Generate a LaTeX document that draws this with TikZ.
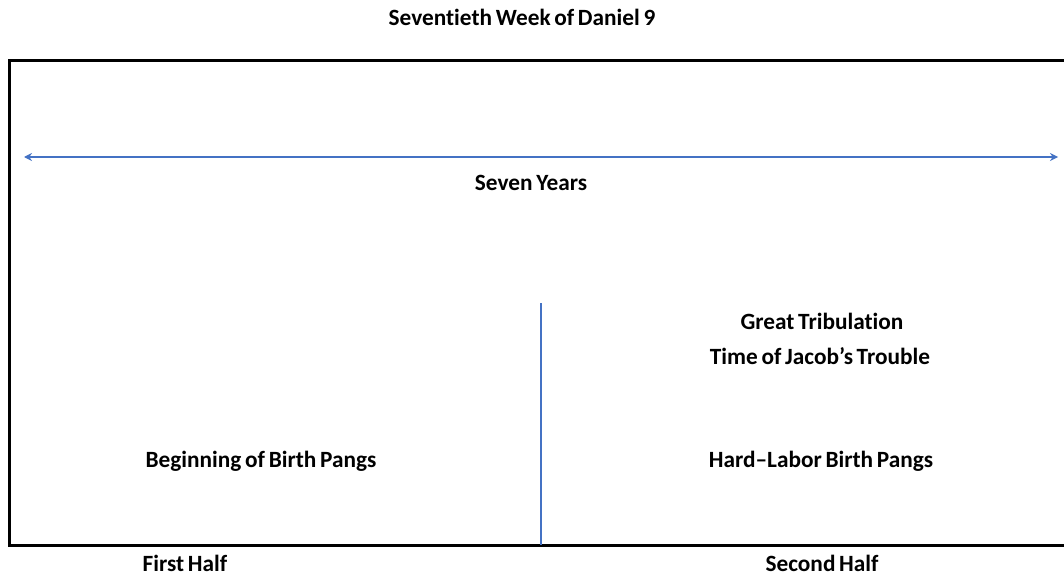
\documentclass[tikz,border=0pt]{standalone}
\usepackage{fontspec}
\setmainfont{Carlito}[Ligatures=NoCommon,WordSpace=0.7]
\usepackage{tikz}
\usetikzlibrary{arrows.meta}
\definecolor{lineblue}{HTML}{4472C4}

\begin{document}
\begin{tikzpicture}[x=1pt,y=-1pt,every node/.style={font=\bfseries\fontsize{23.3}{27}\selectfont, inner sep=0pt, outer sep=0pt},
  bluerule/.style={draw=lineblue, line width=2.4pt}]
\useasboundingbox (0,0) rectangle (1064,575);
\node (title) at (522,17) {Seventieth Week of Daniel 9};

\draw[line width=3pt] (1075,61) -- (9,61) -- (9,545) -- (1075,545);

\coordinate (ys) at (24,157);
\coordinate (ye) at (1058,157);
\draw[bluerule, {Stealth[length=8pt,width=8pt]}-{Stealth[length=8pt,width=8pt]}] (ys) -- (ye);
\node (seven) at (531,183) {Seven Years};

\coordinate (mtop) at (541,303);
\coordinate (mbot) at (541,545);
\draw[bluerule] (mtop) -- (mbot);

\node (great) at (822,321) {Great Tribulation};
\node (jacob) at (820,356) {Time of Jacob’s Trouble};
\node (hard) at (821,461) {Hard–Labor Birth Pangs};
\node (begin) at (261,461) {Beginning of Birth Pangs};

\node (first) at (185,563) {First Half};
\node (second) at (822,563) {Second Half};
\end{tikzpicture}
\end{document}
